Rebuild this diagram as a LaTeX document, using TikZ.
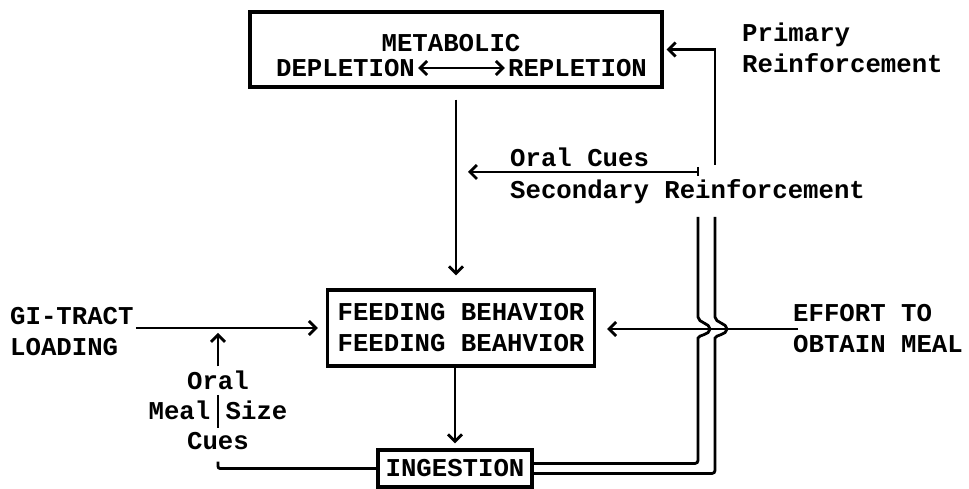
\documentclass[tikz,border=0pt]{standalone}
\usepackage{fontspec}
\setmainfont{Liberation Mono}
\usetikzlibrary{positioning, arrows.meta}

\begin{document}
\begin{tikzpicture} [x = 1pt, y = 1pt, node distance = 2cm, on grid,
        >={Straight Barb[length=7pt, width=14pt]},
        font = \fontsize{25.7pt}{31pt}\selectfont\bfseries,
        box/.style = {draw, line width = 3.2pt, inner sep = 0pt},
        lbl/.style = {inner sep = 0pt, align = left},
        wire/.style = {line width = 2.8pt}]
        \useasboundingbox (0,0) rectangle (969,489);

        % boxes
        \node (met) [box, minimum width = 412pt, minimum height = 75pt] at
        (456,439.5) {}; \node (feed) [box, minimum width = 267pt, minimum height
        = 76pt, align = center, below = 278.5pt of met, xshift = 5pt] {FEEDING
        BEHAVIOR\\FEEDING BEAHVIOR}; \node (ing) [box, minimum width = 154pt,
        minimum height = 37pt, below = 140.5pt of feed, xshift = -6pt]
        {INGESTION};

        % texts
        \node (mtit) [lbl] at (451,446) {METABOLIC}; \node (depl) [lbl, inner
        sep = 3pt] at (345.5,421) {DEPLETION}; \node (repl) [lbl, inner sep =
        3pt] at (577.5,421) {REPLETION}; \node (prim) [lbl, anchor = west] at
        (742,441) {Primary\\Reinforcement}; \node (sec) [lbl, anchor = west,
        font = \fontsize{25.7pt}{32pt}\selectfont\bfseries] at (510,313) {Oral
        Cues\\Secondary Reinforcement}; \node (gi) [lbl, anchor = west] at
        (10,157) {GI-TRACT\\LOADING}; \node (eff) [lbl, anchor = west] at
        (793,160) {EFFORT TO\\OBTAIN MEAL}; \node (cues) [lbl, align = center,
        inner sep = 4pt, font = \fontsize{25.7pt}{30pt}\selectfont\bfseries] at
        (218,79) {Oral\\Meal Size\\Cues};

        \coordinate (up) at (715,324); \coordinate (br) at (698,317);
        \coordinate (oc) at (468,317); \coordinate (sIn) at (698,272);
        \coordinate (sOut) at (715,272); \coordinate (hIn) at (sIn |- eff.west);
        \coordinate (hOut) at (sOut |- eff.west);

        \draw [wire, <->] (depl) -- (repl);
        \draw [wire, ->, shorten <= 11pt, shorten >= 13pt] (met.south) --
            (met.south |- feed.north);
        \draw [wire, ->, shorten >= 5pt] (ing.north |- feed.south) -- (ing.north);
        \draw [wire, ->, shorten <= 2pt, shorten >= 8pt] (gi.east |- feed.west)
            -- (feed.west);
        \draw [wire, ->, shorten <= -5pt, shorten >= 11pt] (eff.west) --
            (eff.west -| feed.east);
        \draw [wire, ->, shorten >= 5pt] (cues.north) -- (cues.north |- feed.west);
        \draw [wire] ([yshift = 15pt]cues.center) -- ([yshift = -18pt]cues.center);
        \draw [wire, rounded corners = 2pt, shorten <= 8pt] (cues.south) --
            (cues.south |- ing.west) -- (ing.west);

        % reinforcement paths
        \draw [wire, ->, shorten >= 3pt] (up) |- (met.east);
        \draw [wire, ->] (br) -- (oc);
        \draw [wire] ([yshift = 5pt]br) -- ([yshift = -4pt]br);
        \draw [wire, rounded corners = 3pt] ([yshift = 5pt]ing.east) -|
            ([yshift = -12pt]hIn) [sharp corners] .. controls +(0,6) and +(0,-6)
            .. ++(12,12) .. controls +(0,6) and +(0,-6) .. ++(-12,12) -- (sIn);
        \draw [wire, rounded corners = 3pt] ([yshift = -5pt]ing.east) -|
            ([yshift = -12pt]hOut) [sharp corners] .. controls +(0,6) and
            +(0,-6) .. ++(12,12) .. controls +(0,6) and +(0,-6) .. ++(-12,12) --
            (sOut);

    \end{tikzpicture}
\end{document}
